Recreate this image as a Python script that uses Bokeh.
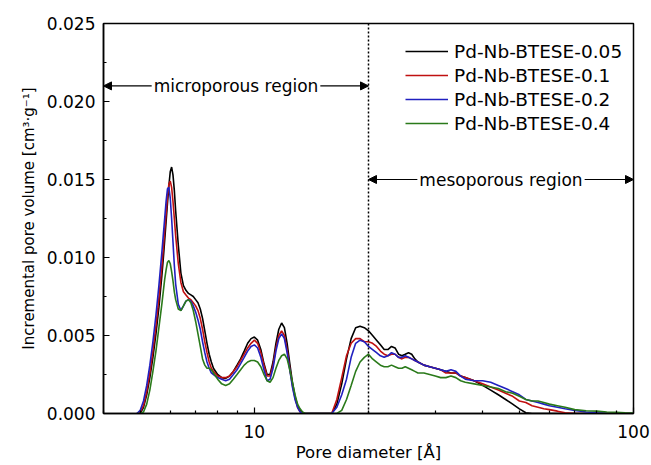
from bokeh.plotting import figure
from bokeh.models import (Range1d, FixedTicker, NumeralTickFormatter, SingleIntervalTicker,
                          PrintfTickFormatter, Span, Arrow, NormalHead, Label)
from bokeh.embed import file_html
from bokeh.resources import INLINE

# ---------------- data ----------------
d_micro = [4.9, 5.0, 5.1, 5.2, 5.3, 5.4, 5.5, 5.6, 5.7,
           5.75, 5.8, 5.85, 5.9, 5.95, 6.0, 6.05, 6.1, 6.15, 6.2,
           6.3, 6.4, 6.5, 6.6, 6.7, 6.8, 6.9, 7.0, 7.1, 7.2,
           7.3, 7.4, 7.5, 7.6, 7.7, 7.8,
           8.0, 8.2, 8.4, 8.6, 8.8, 9.0, 9.2, 9.4, 9.6, 9.8,
           10.0, 10.2, 10.4, 10.6, 10.8, 11.0, 11.2, 11.4, 11.6, 11.8,
           12.0, 12.2, 12.4, 12.6, 12.8, 13.0, 13.2, 13.4, 13.6, 13.8, 14.0]
d_meso = [15.5, 16.0, 16.5, 17.0, 17.5, 18.0, 18.5, 19.0, 19.5, 20.0,
          20.5, 21.0, 21.5, 22.0, 22.5, 23.0, 23.5, 24.0, 24.5, 25.0,
          25.5, 26.0, 26.5, 27.0, 28.0, 29.0, 30.0, 31.0, 32.0, 33.0,
          34.0, 35.0, 36.0, 38.0, 40.0, 42.0, 44.0, 46.0, 48.0, 50.0,
          52.0, 54.0, 56.0, 58.0, 60.0, 63.0, 66.0, 70.0, 75.0, 80.0,
          85.0, 90.0, 95.0, 100.0]

s005_micro = [0, 0, 0.0004, 0.0012, 0.0023, 0.0036, 0.0051, 0.0068, 0.0088,
              0.0099, 0.0111, 0.0123, 0.0135, 0.0146, 0.0155, 0.0158, 0.0153, 0.0143, 0.0130,
              0.0108, 0.0090, 0.0082, 0.0079, 0.0077, 0.0076, 0.0075, 0.0073, 0.0071, 0.0067,
              0.0061, 0.0053, 0.0045, 0.0038, 0.0033, 0.0029,
              0.0025, 0.0023, 0.00225, 0.0024, 0.0027, 0.0031, 0.0035, 0.0040, 0.0045, 0.0048,
              0.0049, 0.0047, 0.0041, 0.0032, 0.0025, 0.0025, 0.0033, 0.0045, 0.0054, 0.0058,
              0.0055, 0.0045, 0.0032, 0.0020, 0.0011, 0.0005, 0.0002, 0.00005, 0, 0, 0]
s01_micro = [0, 0.0001, 0.0005, 0.0014, 0.0026, 0.0040, 0.0056, 0.0074, 0.0094,
             0.0105, 0.0117, 0.0128, 0.0139, 0.0147, 0.0149, 0.0145, 0.0136, 0.0125, 0.0114,
             0.0096, 0.0084, 0.0078, 0.0076, 0.0074, 0.0073, 0.0071, 0.0069, 0.0066, 0.0061,
             0.0054, 0.0046, 0.0039, 0.0033, 0.0029, 0.0027,
             0.0024, 0.0023, 0.0023, 0.0024, 0.0027, 0.0030, 0.0034, 0.0038, 0.0042, 0.0045,
             0.0047, 0.0045, 0.0039, 0.0031, 0.0024, 0.0024, 0.0031, 0.0042, 0.0050, 0.0053,
             0.0050, 0.0041, 0.0029, 0.0018, 0.0010, 0.0004, 0.0001, 0, 0, 0, 0]
s02_micro = [0, 0.0002, 0.0008, 0.0018, 0.0031, 0.0046, 0.0063, 0.0082, 0.0103,
             0.0114, 0.0125, 0.0136, 0.0144, 0.0145, 0.0138, 0.0125, 0.0110, 0.0095, 0.0083,
             0.0070, 0.0066, 0.0069, 0.0072, 0.0073, 0.0072, 0.0069, 0.0065, 0.0060, 0.0054,
             0.0046, 0.0039, 0.0033, 0.0029, 0.0026, 0.0025,
             0.0023, 0.0022, 0.0021, 0.0022, 0.0025, 0.0028, 0.0032, 0.0036, 0.0040, 0.0043,
             0.0044, 0.0042, 0.0036, 0.0028, 0.0021, 0.0022, 0.0029, 0.0040, 0.0048, 0.0051,
             0.0048, 0.0039, 0.0028, 0.0017, 0.0009, 0.0004, 0.0001, 0, 0, 0, 0]
s04_micro = [0, 0, 0.0001, 0.0006, 0.0015, 0.0027, 0.0040, 0.0055, 0.0070,
             0.0078, 0.0086, 0.0092, 0.0097, 0.0098, 0.0096, 0.0091, 0.0085, 0.0078, 0.0073,
             0.0067, 0.0066, 0.0069, 0.0072, 0.0073, 0.0071, 0.0066, 0.0059, 0.0051, 0.0043,
             0.0035, 0.0031, 0.0029, 0.0029, 0.0028, 0.0026,
             0.0022, 0.0019, 0.0018, 0.0019, 0.0022, 0.0025, 0.0028, 0.0031, 0.0033, 0.0034,
             0.0034, 0.0033, 0.0030, 0.0025, 0.0021, 0.0020, 0.0023, 0.0029, 0.0034, 0.0037,
             0.0038, 0.0035, 0.0028, 0.0020, 0.0012, 0.0006, 0.0003, 0.0001, 0, 0, 0]

s005_meso = [0, 0, 0.0006, 0.0019, 0.0035, 0.0048, 0.0055, 0.0056, 0.0055, 0.0053,
             0.0050, 0.0047, 0.0044, 0.0041, 0.0041, 0.0043, 0.0042, 0.0038, 0.0037, 0.0038,
             0.0039, 0.0038, 0.0035, 0.0033, 0.0031, 0.0030, 0.0029, 0.0028, 0.0027, 0.0026,
             0.0026, 0.0024, 0.0023, 0.0021, 0.0018, 0.0015, 0.0012, 0.0009, 0.0006, 0.0003,
             0.00005, 0, 0, 0, 0, 0, 0, 0, 0, 0,
             0, 0, 0, 0]
s01_meso = [0, 0, 0.0009, 0.0023, 0.0037, 0.0045, 0.0048, 0.0048, 0.0046, 0.0046,
            0.0045, 0.0043, 0.0040, 0.0038, 0.0037, 0.0038, 0.0038, 0.0036, 0.0035, 0.0036,
            0.0036, 0.0035, 0.0034, 0.0033, 0.0031, 0.0030, 0.0029, 0.0028, 0.0026, 0.0026,
            0.0026, 0.0024, 0.0023, 0.0021, 0.0019, 0.0017, 0.0015, 0.0013, 0.0011, 0.0008,
            0.0007, 0.0005, 0.0004, 0.0003, 0.00025, 0.00015, 0.00005, 0, 0, 0,
            0, 0, 0, 0]
s02_meso = [0, 0, 0.0004, 0.0012, 0.0022, 0.0036, 0.0045, 0.0047, 0.0046, 0.0043,
            0.0041, 0.0039, 0.0037, 0.0036, 0.0037, 0.0039, 0.0038, 0.0036, 0.0036, 0.0037,
            0.0036, 0.0035, 0.0034, 0.0033, 0.0031, 0.0030, 0.0029, 0.0028, 0.0027, 0.0028,
            0.0027, 0.0024, 0.0022, 0.0021, 0.0021, 0.0020, 0.0018, 0.0016, 0.0014, 0.0012,
            0.0009, 0.0008, 0.0007, 0.0006, 0.0005, 0.0004, 0.0003, 0.0002, 0.0001, 0.00005,
            0.00002, 0, 0, 0]
s04_meso = [0, 0, 0, 0.0002, 0.0009, 0.0018, 0.0027, 0.0033, 0.0036, 0.0038,
            0.0035, 0.0033, 0.0031, 0.0030, 0.0030, 0.0031, 0.0030, 0.0029, 0.0029, 0.0030,
            0.0029, 0.0028, 0.0027, 0.0026, 0.0026, 0.0025, 0.0024, 0.0023, 0.0023, 0.0024,
            0.0023, 0.0021, 0.0020, 0.0019, 0.0018, 0.0017, 0.0016, 0.0014, 0.0013, 0.0011,
            0.0009, 0.0008, 0.0008, 0.0007, 0.0006, 0.0005, 0.0004, 0.00025, 0.00018, 0.00015,
            0.0001, 0.00008, 0.00005, 0.00003]

series_names = ["Pd-Nb-BTESE-0.05", "Pd-Nb-BTESE-0.1", "Pd-Nb-BTESE-0.2", "Pd-Nb-BTESE-0.4"]
x_major_ticks = [10, 100]
x_minor_ticks = [4, 5, 6, 7, 8, 9, 20, 30, 40, 50, 60, 70, 80, 90]
boundary_diameter = 20
region_labels = ["microporous region", "mesoporous region"]

# ---------------- figure ----------------
FONT = "DejaVu Sans"
colors = ["#000000", "#c01010", "#2020c0", "#2a7a1a"]

p = figure(width=651, height=465, x_axis_type="log", output_backend="svg",
           toolbar_location=None, x_range=Range1d(4, 100), y_range=Range1d(0, 0.025),
           min_border_left=103, min_border_right=18, min_border_top=23, min_border_bottom=52)
p.background_fill_color = "white"
p.border_fill_color = "white"
p.outline_line_color = "black"
p.outline_line_width = 1.5
p.xgrid.visible = False
p.ygrid.visible = False

diam = d_micro + d_meso
series = [s005_micro + s005_meso, s01_micro + s01_meso, s02_micro + s02_meso, s04_micro + s04_meso]
for vals, name, c in zip(series, series_names, colors):
    p.line(diam, vals, line_color=c, line_width=1.6, legend_label=name)

# axes
p.xaxis.ticker = FixedTicker(ticks=x_major_ticks, minor_ticks=x_minor_ticks)
p.xaxis.formatter = PrintfTickFormatter(format="%d")
p.yaxis.ticker = SingleIntervalTicker(interval=0.005, num_minor_ticks=2)
p.yaxis.formatter = NumeralTickFormatter(format="0.000")
for ax in (p.xaxis[0], p.yaxis[0]):
    ax.major_tick_in = 6
    ax.major_tick_out = 0
    ax.minor_tick_in = 3
    ax.minor_tick_out = 0
    ax.axis_line_width = 1.5
    ax.major_tick_line_width = 1.2
    ax.minor_tick_line_width = 1.2
    ax.major_label_text_font = FONT
    ax.major_label_text_font_size = "17px"
    ax.major_label_text_color = "black"
    ax.axis_label_text_font = FONT
    ax.axis_label_text_font_style = "normal"
    ax.axis_label_text_color = "black"
p.xaxis.axis_label_text_font_size = "16.5px"
p.yaxis.axis_label_text_font_size = "15px"
p.xaxis.axis_label = "Pore diameter [Å]"
p.yaxis.axis_label = "Incremental pore volume [cm³·g⁻¹]"
p.xaxis.major_label_standoff = 11
p.xaxis.axis_label_standoff = 2
p.yaxis.major_label_standoff = 8
p.yaxis.axis_label_standoff = 6

# boundary line
p.add_layout(Span(location=boundary_diameter, dimension="height", line_color="black",
                  line_width=1.5, line_dash="2 2"))

# region arrows
def head():
    return NormalHead(size=8, fill_color="black", line_color="black", line_width=1)

p.add_layout(Arrow(start=head(), end=head(), x_start=4, y_start=0.021,
                   x_end=boundary_diameter, y_end=0.021, line_color="black", line_width=1.2))
p.add_layout(Arrow(start=head(), end=head(), x_start=boundary_diameter, y_start=0.015,
                   x_end=100, y_end=0.015, line_color="black", line_width=1.2))
p.add_layout(Label(x=(4 * boundary_diameter) ** 0.5, y=0.021, text=region_labels[0],
                   text_align="center", text_baseline="middle", text_font=FONT,
                   text_color="black", text_font_size="17px",
                   background_fill_color="white", padding=2))
p.add_layout(Label(x=(boundary_diameter * 100) ** 0.5, y=0.015, text=region_labels[1],
                   text_align="center", text_baseline="middle", text_font=FONT,
                   text_color="black", text_font_size="17px",
                   background_fill_color="white", padding=2))

# legend
lg = p.legend[0]
lg.location = (302, 278)
lg.border_line_alpha = 0
lg.background_fill_alpha = 0
lg.glyph_width = 43
lg.glyph_height = 24
lg.label_height = 24
lg.label_standoff = 6
lg.spacing = 0
lg.padding = 0
lg.margin = 0
lg.label_text_font = FONT
lg.label_text_color = "black"
lg.label_text_font_size = "18.5px"

open("out.html", "w").write(file_html(p, INLINE))
